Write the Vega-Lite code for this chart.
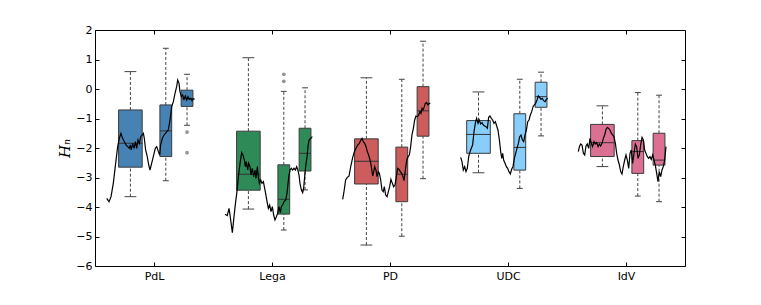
{
 "$schema": "https://vega.github.io/schema/vega-lite/v6.json",
 "width": 590, "height": 236,
 "autosize": "none",
 "padding": {"left": 95, "top": 30, "right": 76, "bottom": 39},
 "background": "white",
 "config": {
  "view": {"stroke": "black", "strokeWidth": 1},
  "axis": {"grid": false, "domainColor": "black", "tickColor": "black", "labelColor": "black", "labelFont": "DejaVu Sans", "labelFontSize": 11}
 },
 "datasets": {
  "boxes": [
   {"party":"PdL","x0":-0.3,"x1":-0.1,"lo":-3.65,"q1":-2.65,"med":-1.84,"q3":-0.71,"hi":0.59},
   {"party":"PdL","x0":0.05,"x1":0.15,"lo":-3.11,"q1":-2.29,"med":-1.42,"q3":-0.54,"hi":1.38},
   {"party":"PdL","x0":0.23,"x1":0.33,"lo":-1.23,"q1":-0.59,"med":-0.33,"q3":-0.04,"hi":0.50},
   {"party":"Lega","x0":0.7,"x1":0.9,"lo":-4.07,"q1":-3.43,"med":-2.89,"q3":-1.43,"hi":1.06},
   {"party":"Lega","x0":1.05,"x1":1.15,"lo":-4.78,"q1":-4.24,"med":-3.74,"q3":-2.57,"hi":-0.08},
   {"party":"Lega","x0":1.23,"x1":1.33,"lo":-3.42,"q1":-2.78,"med":-2.18,"q3":-1.33,"hi":0.04},
   {"party":"PD","x0":1.7,"x1":1.9,"lo":-5.29,"q1":-3.22,"med":-2.45,"q3":-1.69,"hi":0.38},
   {"party":"PD","x0":2.05,"x1":2.15,"lo":-4.99,"q1":-3.82,"med":-2.89,"q3":-1.97,"hi":0.33},
   {"party":"PD","x0":2.23,"x1":2.33,"lo":-3.04,"q1":-1.60,"med":-0.74,"q3":0.08,"hi":1.62},
   {"party":"UDC","x0":2.65,"x1":2.85,"lo":-2.84,"q1":-2.18,"med":-1.54,"q3":-1.07,"hi":-0.10},
   {"party":"UDC","x0":3.05,"x1":3.15,"lo":-3.37,"q1":-2.75,"med":-1.98,"q3":-0.84,"hi":0.33},
   {"party":"UDC","x0":3.23,"x1":3.33,"lo":-1.59,"q1":-0.62,"med":-0.26,"q3":0.23,"hi":0.57},
   {"party":"IdV","x0":3.7,"x1":3.9,"lo":-2.63,"q1":-2.29,"med":-1.82,"q3":-1.20,"hi":-0.57},
   {"party":"IdV","x0":4.05,"x1":4.15,"lo":-3.63,"q1":-2.86,"med":-2.12,"q3":-1.75,"hi":-0.12},
   {"party":"IdV","x0":4.23,"x1":4.33,"lo":-3.82,"q1":-2.58,"med":-2.41,"q3":-1.50,"hi":-0.21}
  ],
  "outliers": [
   {"party":"PdL","pos":0.28,"v":-1.46},
   {"party":"PdL","pos":0.28,"v":-2.16},
   {"party":"Lega","pos":1.10,"v":0.50},
   {"party":"Lega","pos":1.10,"v":0.26}
  ],
  "lines": [
   {"p":"PdL","t":-0.401,"h":-3.706},{"p":"PdL","t":-0.381,"h":-3.819},{"p":"PdL","t":-0.364,"h":-3.650},{"p":"PdL","t":-0.345,"h":-3.198},{"p":"PdL","t":-0.325,"h":-2.520},{"p":"PdL","t":-0.308,"h":-1.955},{"p":"PdL","t":-0.294,"h":-1.672},{"p":"PdL","t":-0.280,"h":-1.503},{"p":"PdL","t":-0.266,"h":-1.672},{"p":"PdL","t":-0.251,"h":-1.785},{"p":"PdL","t":-0.237,"h":-1.898},{"p":"PdL","t":-0.223,"h":-1.955},{"p":"PdL","t":-0.209,"h":-2.011},{"p":"PdL","t":-0.201,"h":-1.898},{"p":"PdL","t":-0.192,"h":-2.068},{"p":"PdL","t":-0.181,"h":-1.842},{"p":"PdL","t":-0.169,"h":-2.011},{"p":"PdL","t":-0.158,"h":-1.785},{"p":"PdL","t":-0.147,"h":-2.011},{"p":"PdL","t":-0.136,"h":-1.729},{"p":"PdL","t":-0.124,"h":-1.842},{"p":"PdL","t":-0.113,"h":-1.616},{"p":"PdL","t":-0.099,"h":-1.559},{"p":"PdL","t":-0.090,"h":-1.503},{"p":"PdL","t":-0.082,"h":-1.672},{"p":"PdL","t":-0.071,"h":-2.068},{"p":"PdL","t":-0.057,"h":-2.294},{"p":"PdL","t":-0.045,"h":-2.576},{"p":"PdL","t":-0.034,"h":-2.746},{"p":"PdL","t":-0.020,"h":-2.520},{"p":"PdL","t":-0.006,"h":-2.294},{"p":"PdL","t":0.011,"h":-2.011},{"p":"PdL","t":0.023,"h":-1.955},{"p":"PdL","t":0.037,"h":-2.124},{"p":"PdL","t":0.048,"h":-2.237},{"p":"PdL","t":0.056,"h":-1.898},{"p":"PdL","t":0.071,"h":-1.672},{"p":"PdL","t":0.085,"h":-1.559},{"p":"PdL","t":0.102,"h":-1.480},{"p":"PdL","t":0.121,"h":-1.390},{"p":"PdL","t":0.136,"h":-1.051},{"p":"PdL","t":0.150,"h":-0.599},{"p":"PdL","t":0.164,"h":-0.429},{"p":"PdL","t":0.178,"h":-0.147},{"p":"PdL","t":0.192,"h":0.079},{"p":"PdL","t":0.201,"h":0.305},{"p":"PdL","t":0.212,"h":0.192},{"p":"PdL","t":0.220,"h":-0.090},{"p":"PdL","t":0.232,"h":-0.260},{"p":"PdL","t":0.243,"h":-0.203},{"p":"PdL","t":0.254,"h":-0.350},{"p":"PdL","t":0.266,"h":-0.237},{"p":"PdL","t":0.277,"h":-0.373},{"p":"PdL","t":0.288,"h":-0.260},{"p":"PdL","t":0.299,"h":-0.350},{"p":"PdL","t":0.311,"h":-0.316},{"p":"PdL","t":0.322,"h":-0.396},{"p":"PdL","t":0.333,"h":-0.328},{"p":"PdL","t":0.345,"h":-0.350},
   {"p":"Lega","t":0.602,"h":-4.249},{"p":"Lega","t":0.621,"h":-4.294},{"p":"Lega","t":0.636,"h":-4.045},{"p":"Lega","t":0.650,"h":-4.441},{"p":"Lega","t":0.664,"h":-4.870},{"p":"Lega","t":0.678,"h":-4.328},{"p":"Lega","t":0.692,"h":-3.819},{"p":"Lega","t":0.703,"h":-3.480},{"p":"Lega","t":0.715,"h":-2.972},{"p":"Lega","t":0.729,"h":-2.520},{"p":"Lega","t":0.743,"h":-2.158},{"p":"Lega","t":0.754,"h":-2.237},{"p":"Lega","t":0.766,"h":-2.407},{"p":"Lega","t":0.774,"h":-2.633},{"p":"Lega","t":0.782,"h":-2.463},{"p":"Lega","t":0.794,"h":-2.746},{"p":"Lega","t":0.802,"h":-2.520},{"p":"Lega","t":0.814,"h":-2.633},{"p":"Lega","t":0.822,"h":-2.915},{"p":"Lega","t":0.833,"h":-2.689},{"p":"Lega","t":0.845,"h":-2.972},{"p":"Lega","t":0.856,"h":-2.746},{"p":"Lega","t":0.864,"h":-3.028},{"p":"Lega","t":0.876,"h":-2.633},{"p":"Lega","t":0.884,"h":-2.972},{"p":"Lega","t":0.893,"h":-3.198},{"p":"Lega","t":0.904,"h":-3.085},{"p":"Lega","t":0.915,"h":-3.198},{"p":"Lega","t":0.927,"h":-3.141},{"p":"Lega","t":0.935,"h":-3.311},{"p":"Lega","t":0.946,"h":-3.537},{"p":"Lega","t":0.958,"h":-3.819},{"p":"Lega","t":0.969,"h":-4.045},{"p":"Lega","t":0.980,"h":-3.932},{"p":"Lega","t":0.992,"h":-4.158},{"p":"Lega","t":1.003,"h":-3.989},{"p":"Lega","t":1.014,"h":-4.271},{"p":"Lega","t":1.025,"h":-4.441},{"p":"Lega","t":1.037,"h":-4.328},{"p":"Lega","t":1.048,"h":-4.215},{"p":"Lega","t":1.059,"h":-3.989},{"p":"Lega","t":1.071,"h":-4.192},{"p":"Lega","t":1.079,"h":-3.989},{"p":"Lega","t":1.090,"h":-3.932},{"p":"Lega","t":1.102,"h":-3.819},{"p":"Lega","t":1.116,"h":-3.763},{"p":"Lega","t":1.127,"h":-3.537},{"p":"Lega","t":1.136,"h":-3.198},{"p":"Lega","t":1.144,"h":-2.915},{"p":"Lega","t":1.153,"h":-2.746},{"p":"Lega","t":1.164,"h":-2.689},{"p":"Lega","t":1.175,"h":-2.746},{"p":"Lega","t":1.186,"h":-2.689},{"p":"Lega","t":1.198,"h":-2.746},{"p":"Lega","t":1.209,"h":-2.633},{"p":"Lega","t":1.218,"h":-2.723},{"p":"Lega","t":1.229,"h":-2.915},{"p":"Lega","t":1.237,"h":-3.198},{"p":"Lega","t":1.249,"h":-3.424},{"p":"Lega","t":1.260,"h":-3.514},{"p":"Lega","t":1.268,"h":-3.367},{"p":"Lega","t":1.277,"h":-2.972},{"p":"Lega","t":1.285,"h":-2.633},{"p":"Lega","t":1.297,"h":-2.294},{"p":"Lega","t":1.305,"h":-1.955},{"p":"Lega","t":1.314,"h":-1.729},{"p":"Lega","t":1.328,"h":-1.672},{"p":"Lega","t":1.342,"h":-1.616},
   {"p":"PD","t":1.599,"h":-3.740},{"p":"PD","t":1.610,"h":-3.480},{"p":"PD","t":1.624,"h":-3.085},{"p":"PD","t":1.638,"h":-2.994},{"p":"PD","t":1.653,"h":-2.949},{"p":"PD","t":1.667,"h":-2.633},{"p":"PD","t":1.684,"h":-2.316},{"p":"PD","t":1.698,"h":-2.124},{"p":"PD","t":1.712,"h":-2.011},{"p":"PD","t":1.726,"h":-1.898},{"p":"PD","t":1.740,"h":-1.842},{"p":"PD","t":1.754,"h":-1.729},{"p":"PD","t":1.763,"h":-1.672},{"p":"PD","t":1.774,"h":-1.785},{"p":"PD","t":1.785,"h":-1.842},{"p":"PD","t":1.797,"h":-1.955},{"p":"PD","t":1.808,"h":-2.124},{"p":"PD","t":1.819,"h":-2.237},{"p":"PD","t":1.831,"h":-2.407},{"p":"PD","t":1.842,"h":-2.633},{"p":"PD","t":1.853,"h":-2.949},{"p":"PD","t":1.862,"h":-2.802},{"p":"PD","t":1.870,"h":-2.633},{"p":"PD","t":1.881,"h":-2.746},{"p":"PD","t":1.890,"h":-2.972},{"p":"PD","t":1.901,"h":-2.802},{"p":"PD","t":1.910,"h":-2.859},{"p":"PD","t":1.921,"h":-3.085},{"p":"PD","t":1.932,"h":-3.424},{"p":"PD","t":1.943,"h":-3.480},{"p":"PD","t":1.952,"h":-3.311},{"p":"PD","t":1.963,"h":-3.593},{"p":"PD","t":1.975,"h":-3.650},{"p":"PD","t":1.986,"h":-3.480},{"p":"PD","t":1.997,"h":-3.311},{"p":"PD","t":2.008,"h":-3.062},{"p":"PD","t":2.020,"h":-3.198},{"p":"PD","t":2.031,"h":-3.311},{"p":"PD","t":2.042,"h":-3.254},{"p":"PD","t":2.054,"h":-2.972},{"p":"PD","t":2.065,"h":-2.689},{"p":"PD","t":2.076,"h":-2.723},{"p":"PD","t":2.088,"h":-2.802},{"p":"PD","t":2.099,"h":-2.859},{"p":"PD","t":2.110,"h":-2.972},{"p":"PD","t":2.119,"h":-3.107},{"p":"PD","t":2.130,"h":-2.746},{"p":"PD","t":2.142,"h":-2.407},{"p":"PD","t":2.153,"h":-2.294},{"p":"PD","t":2.164,"h":-2.237},{"p":"PD","t":2.175,"h":-1.955},{"p":"PD","t":2.186,"h":-1.559},{"p":"PD","t":2.198,"h":-1.333},{"p":"PD","t":2.209,"h":-1.051},{"p":"PD","t":2.220,"h":-0.915},{"p":"PD","t":2.232,"h":-0.938},{"p":"PD","t":2.243,"h":-0.881},{"p":"PD","t":2.254,"h":-0.768},{"p":"PD","t":2.263,"h":-0.825},{"p":"PD","t":2.271,"h":-0.655},{"p":"PD","t":2.280,"h":-0.712},{"p":"PD","t":2.291,"h":-0.599},{"p":"PD","t":2.299,"h":-0.486},{"p":"PD","t":2.311,"h":-0.463},{"p":"PD","t":2.322,"h":-0.542},{"p":"PD","t":2.333,"h":-0.486},{"p":"PD","t":2.342,"h":-0.486},
   {"p":"UDC","t":2.599,"h":-2.316},{"p":"UDC","t":2.610,"h":-2.463},{"p":"UDC","t":2.621,"h":-2.746},{"p":"UDC","t":2.633,"h":-2.633},{"p":"UDC","t":2.644,"h":-2.802},{"p":"UDC","t":2.655,"h":-2.689},{"p":"UDC","t":2.667,"h":-2.294},{"p":"UDC","t":2.678,"h":-2.124},{"p":"UDC","t":2.689,"h":-2.011},{"p":"UDC","t":2.700,"h":-1.898},{"p":"UDC","t":2.712,"h":-1.446},{"p":"UDC","t":2.723,"h":-1.164},{"p":"UDC","t":2.734,"h":-0.994},{"p":"UDC","t":2.746,"h":-1.164},{"p":"UDC","t":2.757,"h":-1.051},{"p":"UDC","t":2.768,"h":-1.186},{"p":"UDC","t":2.780,"h":-1.141},{"p":"UDC","t":2.791,"h":-1.220},{"p":"UDC","t":2.802,"h":-1.254},{"p":"UDC","t":2.814,"h":-1.277},{"p":"UDC","t":2.825,"h":-1.333},{"p":"UDC","t":2.836,"h":-0.960},{"p":"UDC","t":2.847,"h":-0.915},{"p":"UDC","t":2.859,"h":-0.994},{"p":"UDC","t":2.870,"h":-1.051},{"p":"UDC","t":2.881,"h":-1.164},{"p":"UDC","t":2.893,"h":-1.107},{"p":"UDC","t":2.904,"h":-1.254},{"p":"UDC","t":2.915,"h":-1.390},{"p":"UDC","t":2.927,"h":-1.729},{"p":"UDC","t":2.938,"h":-2.124},{"p":"UDC","t":2.947,"h":-2.350},{"p":"UDC","t":2.955,"h":-2.181},{"p":"UDC","t":2.963,"h":-2.407},{"p":"UDC","t":2.975,"h":-2.520},{"p":"UDC","t":2.986,"h":-2.633},{"p":"UDC","t":2.997,"h":-2.689},{"p":"UDC","t":3.008,"h":-2.802},{"p":"UDC","t":3.020,"h":-2.881},{"p":"UDC","t":3.031,"h":-2.723},{"p":"UDC","t":3.042,"h":-2.633},{"p":"UDC","t":3.054,"h":-2.350},{"p":"UDC","t":3.065,"h":-2.181},{"p":"UDC","t":3.076,"h":-2.011},{"p":"UDC","t":3.088,"h":-1.842},{"p":"UDC","t":3.099,"h":-1.616},{"p":"UDC","t":3.110,"h":-1.559},{"p":"UDC","t":3.122,"h":-1.729},{"p":"UDC","t":3.133,"h":-1.785},{"p":"UDC","t":3.144,"h":-1.559},{"p":"UDC","t":3.156,"h":-1.390},{"p":"UDC","t":3.167,"h":-1.107},{"p":"UDC","t":3.178,"h":-1.051},{"p":"UDC","t":3.189,"h":-0.881},{"p":"UDC","t":3.201,"h":-0.768},{"p":"UDC","t":3.212,"h":-0.599},{"p":"UDC","t":3.223,"h":-0.542},{"p":"UDC","t":3.234,"h":-0.486},{"p":"UDC","t":3.246,"h":-0.373},{"p":"UDC","t":3.257,"h":-0.237},{"p":"UDC","t":3.268,"h":-0.282},{"p":"UDC","t":3.280,"h":-0.350},{"p":"UDC","t":3.291,"h":-0.316},{"p":"UDC","t":3.302,"h":-0.396},{"p":"UDC","t":3.314,"h":-0.429},{"p":"UDC","t":3.325,"h":-0.350},{"p":"UDC","t":3.336,"h":-0.316},
   {"p":"IdV","t":3.596,"h":-2.124},{"p":"IdV","t":3.605,"h":-1.955},{"p":"IdV","t":3.616,"h":-1.864},{"p":"IdV","t":3.627,"h":-1.898},{"p":"IdV","t":3.639,"h":-2.181},{"p":"IdV","t":3.650,"h":-2.237},{"p":"IdV","t":3.661,"h":-1.932},{"p":"IdV","t":3.672,"h":-1.864},{"p":"IdV","t":3.684,"h":-2.011},{"p":"IdV","t":3.695,"h":-1.672},{"p":"IdV","t":3.706,"h":-1.842},{"p":"IdV","t":3.717,"h":-1.955},{"p":"IdV","t":3.729,"h":-1.785},{"p":"IdV","t":3.740,"h":-1.864},{"p":"IdV","t":3.751,"h":-1.819},{"p":"IdV","t":3.763,"h":-1.955},{"p":"IdV","t":3.774,"h":-1.864},{"p":"IdV","t":3.785,"h":-1.932},{"p":"IdV","t":3.797,"h":-1.842},{"p":"IdV","t":3.808,"h":-1.672},{"p":"IdV","t":3.819,"h":-1.559},{"p":"IdV","t":3.831,"h":-1.367},{"p":"IdV","t":3.842,"h":-1.299},{"p":"IdV","t":3.853,"h":-1.333},{"p":"IdV","t":3.864,"h":-1.390},{"p":"IdV","t":3.876,"h":-1.503},{"p":"IdV","t":3.887,"h":-1.559},{"p":"IdV","t":3.898,"h":-1.616},{"p":"IdV","t":3.910,"h":-1.842},{"p":"IdV","t":3.921,"h":-2.181},{"p":"IdV","t":3.932,"h":-2.407},{"p":"IdV","t":3.944,"h":-2.576},{"p":"IdV","t":3.955,"h":-2.802},{"p":"IdV","t":3.966,"h":-2.881},{"p":"IdV","t":3.977,"h":-2.633},{"p":"IdV","t":3.989,"h":-2.407},{"p":"IdV","t":4.000,"h":-2.237},{"p":"IdV","t":4.011,"h":-2.407},{"p":"IdV","t":4.023,"h":-2.689},{"p":"IdV","t":4.034,"h":-2.181},{"p":"IdV","t":4.045,"h":-2.068},{"p":"IdV","t":4.056,"h":-2.520},{"p":"IdV","t":4.068,"h":-2.181},{"p":"IdV","t":4.079,"h":-1.864},{"p":"IdV","t":4.090,"h":-1.955},{"p":"IdV","t":4.102,"h":-2.350},{"p":"IdV","t":4.113,"h":-2.237},{"p":"IdV","t":4.124,"h":-1.898},{"p":"IdV","t":4.136,"h":-1.638},{"p":"IdV","t":4.147,"h":-1.729},{"p":"IdV","t":4.158,"h":-2.068},{"p":"IdV","t":4.169,"h":-2.181},{"p":"IdV","t":4.181,"h":-2.294},{"p":"IdV","t":4.192,"h":-2.350},{"p":"IdV","t":4.203,"h":-2.294},{"p":"IdV","t":4.214,"h":-2.384},{"p":"IdV","t":4.226,"h":-2.237},{"p":"IdV","t":4.237,"h":-2.407},{"p":"IdV","t":4.248,"h":-2.576},{"p":"IdV","t":4.260,"h":-2.859},{"p":"IdV","t":4.271,"h":-3.141},{"p":"IdV","t":4.282,"h":-2.802},{"p":"IdV","t":4.294,"h":-2.972},{"p":"IdV","t":4.305,"h":-2.746},{"p":"IdV","t":4.316,"h":-2.633},{"p":"IdV","t":4.328,"h":-2.407},{"p":"IdV","t":4.339,"h":-1.955}
  ]
 },
 "layer": [
  {
   "data": {"name": "boxes"},
   "transform": [{"calculate": "(datum.x0 + datum.x1) / 2", "as": "c"}],
   "mark": {"type": "rule", "color": "#444444", "strokeWidth": 1, "strokeDash": [3, 2]},
   "encoding": {
    "x": {"field": "c", "type": "quantitative", "scale": {"domain": [-0.5, 4.5], "nice": false, "zero": false},
          "axis": {"orient": "bottom", "values": [0, 1, 2, 3, 4], "labelExpr": "['PdL','Lega','PD','UDC','IdV'][datum.value]", "title": null, "tickSize": -4, "labelPadding": 8, "domain": false}},
    "y": {"field": "lo", "type": "quantitative", "scale": {"domain": [-6, 2], "nice": false, "zero": false},
          "axis": {"orient": "left", "values": [-6, -5, -4, -3, -2, -1, 0, 1, 2], "tickSize": -4, "labelPadding": 7, "domain": false,
                   "title": "Hₙ", "titleFont": "DejaVu Serif", "titleFontStyle": "italic", "titleFontWeight": "normal", "titleFontSize": 15, "titleColor": "black", "titlePadding": 3}},
    "y2": {"field": "q1"}
   }
  },
  {
   "data": {"name": "boxes"},
   "transform": [{"calculate": "(datum.x0 + datum.x1) / 2", "as": "c"}],
   "mark": {"type": "rule", "color": "#444444", "strokeWidth": 1, "strokeDash": [3, 2]},
   "encoding": {
    "x": {"field": "c", "type": "quantitative", "axis": null},
    "y": {"field": "q3", "type": "quantitative", "axis": null},
    "y2": {"field": "hi"}
   }
  },
  {
   "data": {"name": "boxes"},
   "mark": {"type": "rect", "stroke": "#3a3a3a", "strokeWidth": 1, "opacity": 1},
   "encoding": {
    "x": {"field": "x0", "type": "quantitative", "axis": null},
    "x2": {"field": "x1"},
    "y": {"field": "q1", "type": "quantitative", "axis": null},
    "y2": {"field": "q3"},
    "fill": {"field": "party", "type": "nominal", "legend": null,
             "scale": {"domain": ["PdL", "Lega", "PD", "UDC", "IdV"], "range": ["#4682b4", "#2e8b57", "#cd5c5c", "#87cefa", "#db7093"]}}
   }
  },
  {
   "data": {"name": "boxes"},
   "mark": {"type": "rule", "color": "#333333", "strokeWidth": 1},
   "encoding": {
    "x": {"field": "x0", "type": "quantitative", "axis": null},
    "x2": {"field": "x1"},
    "y": {"field": "med", "type": "quantitative", "axis": null}
   }
  },
  {
   "data": {"name": "boxes"},
   "transform": [
    {"calculate": "0.75 * datum.x0 + 0.25 * datum.x1", "as": "ca"},
    {"calculate": "0.25 * datum.x0 + 0.75 * datum.x1", "as": "cb"},
    {"fold": ["lo", "hi"], "as": ["k", "v"]}
   ],
   "mark": {"type": "rule", "color": "#444444", "strokeWidth": 1},
   "encoding": {
    "x": {"field": "ca", "type": "quantitative", "axis": null},
    "x2": {"field": "cb"},
    "y": {"field": "v", "type": "quantitative", "axis": null}
   }
  },
  {
   "data": {"name": "outliers"},
   "mark": {"type": "point", "filled": true, "color": "#666666", "opacity": 0.7, "size": 14},
   "encoding": {
    "x": {"field": "pos", "type": "quantitative", "axis": null},
    "y": {"field": "v", "type": "quantitative", "axis": null}
   }
  },
  {
   "data": {"name": "lines"},
   "mark": {"type": "line", "color": "black", "strokeWidth": 1.2},
   "encoding": {
    "x": {"field": "t", "type": "quantitative",
          "axis": {"orient": "top", "values": [0, 1, 2, 3, 4], "labels": false, "tickSize": -4, "domain": false, "title": null}},
    "y": {"field": "h", "type": "quantitative",
          "axis": {"orient": "right", "values": [-6, -5, -4, -3, -2, -1, 0, 1, 2], "labels": false, "tickSize": -4, "domain": false, "title": null}},
    "detail": {"field": "p", "type": "nominal"}
   }
  }
 ],
 "resolve": {"axis": {"x": "independent", "y": "independent"}}
}
